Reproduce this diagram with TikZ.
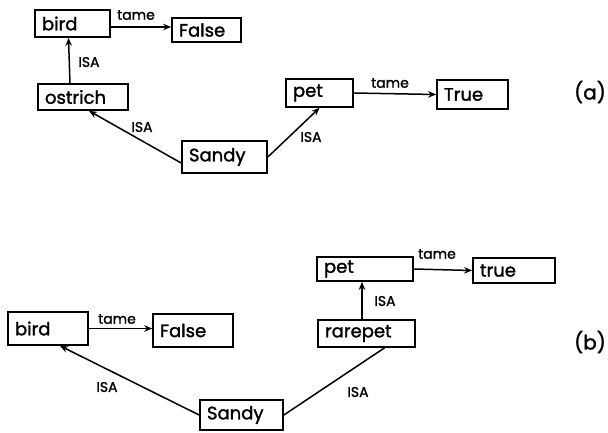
\documentclass[tikz,border=0pt]{standalone}
\usepackage{fontspec}
\setmainfont{Poppins}[FakeBold=1.5]
\usetikzlibrary{arrows.meta,calc}
\begin{document}
\begin{tikzpicture}[x=1pt,y=-1pt,
  box/.style 2 args={draw,line width=1.7pt,inner ysep=0pt,inner xsep=7pt,
    text width=#1,minimum height=#2,align=left,font=\fontsize{18}{19}\selectfont},
  arr/.style={line width=1.5pt,-{Stealth[length=8pt,width=6.5pt]}},
  lnk/.style={line width=1.5pt},
  lbl/.style={inner sep=0pt,font=\fontsize{14}{15}\selectfont},
  tag/.style={inner sep=0pt,font=\fontsize{20}{22}\selectfont}]
\useasboundingbox (0,0) rectangle (608,432);
% (a)
\node[box={61}{27}] (birdA) at (72.5,23.5) {bird};
\node[box={55}{24}] (falseA) at (206.5,30) {False};
\node[box={76}{26}] (ostrich) at (83,97) {ostrich};
\node[box={71}{32}] (sandyA) at (224.5,157) {Sandy};
\node[box={53}{28}] (petA) at (319.5,93) {pet};
\node[box={57}{29}] (trueA) at (472.5,94.5) {True};
\draw[arr] ($(birdA.east)+(0,3.5)$) -- ($(falseA.west)+(0,-3)$);
\node[lbl] (tA1) at (136,15) {tame};
\draw[arr] ($(ostrich.north)+(-13,0)$) -- ($(birdA.south)+(-4,0)$);
\node[lbl] (iA1) at (89,62) {ISA};
\draw[arr] ($(sandyA.west)+(0,6)$) -- ($(ostrich.south)+(6,0)$);
\node[lbl] (iA2) at (142,127) {ISA};
\draw[arr] (sandyA.east) -- (petA.south);
\node[lbl] (iA3) at (311,137) {ISA};
\draw[arr] (petA.east) -- (trueA.west);
\node[lbl] (tA2) at (390,83) {tame};
\node[tag] (la) at (590,92) {(a)};
% (b)
\node[box={66}{33}] (birdB) at (48,328.5) {bird};
\node[box={66}{33}] (falseB) at (193,330.5) {False};
\node[box={69}{30}] (sandyB) at (241.5,415) {Sandy};
\node[box={83}{27}] (rarepet) at (366.5,333.5) {rarepet};
\node[box={82}{24}] (petB) at (365,269) {pet};
\node[box={68}{25}] (trueB) at (514,270.5) {true};
\draw[arr] (birdB.east) -- ($(falseB.west)+(0,-2)$);
\node[lbl] (tB1) at (117,319) {tame};
\draw[arr] (sandyB.west) -- ($(birdB.south)+(12,0)$);
\node[lbl] (iB1) at (107,387) {ISA};
\draw[lnk] (sandyB.east) -- ($(rarepet.south)+(18,0)$);
\node[lbl] (iB2) at (358,392) {ISA};
\draw[arr] ($(rarepet.north)+(-4.5,0)$) -- ($(petB.south)+(-3,0)$);
\node[lbl] (iB3) at (385,301) {ISA};
\draw[arr] (petB.east) -- (trueB.west);
\node[lbl] (tB2) at (437,254) {tame};
\node[tag] (lb) at (590,342) {(b)};
\end{tikzpicture}
\end{document}
